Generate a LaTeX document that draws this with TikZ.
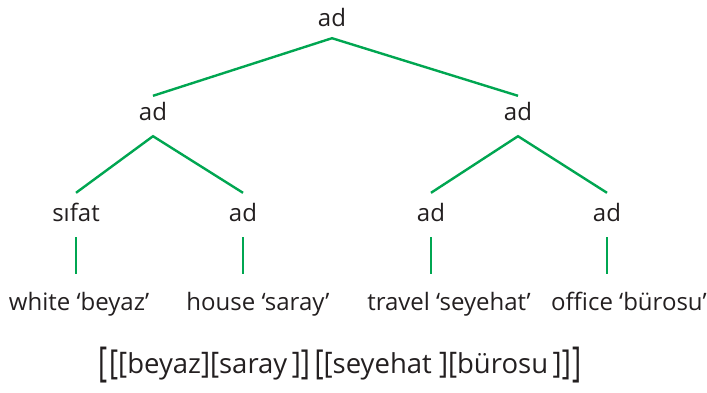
\documentclass[tikz,border=0pt]{standalone}
\usepackage{fontspec}
\setmainfont{Open Sans}
\usepackage{graphicx}
\usetikzlibrary{positioning}
\definecolor{branchcolor}{RGB}{0,166,81}
\definecolor{inkcolor}{RGB}{35,31,32}
\tikzset{
  catlbl/.style={font=\fontsize{24}{28}\selectfont, text=inkcolor, anchor=base,
    text height=15pt, text depth=3pt, inner xsep=0pt, inner ysep=9pt},
  midlbl/.style={catlbl, text depth=7pt},
  leaflbl/.style={catlbl, inner ysep=13pt},
  glosslbl/.style={catlbl, inner ysep=21pt},
  phraselbl/.style={font=\fontsize{27.5}{32}\selectfont, text=inkcolor, anchor=base, inner sep=0pt},
  branch/.style={line width=2.4pt, branchcolor},
}
\newcommand{\brk}[2]{\raisebox{0.28em}{\scalebox{1}[#1]{\raisebox{-0.28em}{#2}}}}

\begin{document}
\begin{tikzpicture}[x=1pt,y=-1pt]
  \useasboundingbox (0,0) rectangle (707,392);
  \node[catlbl] (root) at (332,26) {ad};
  \node[midlbl] (adA) at (153,120) {ad};
  \node[midlbl] (adB) at (518,120) {ad};
  \foreach \nm/\x/\lab in {sifat/76/sıfat, adAA/243/ad, adBA/431/ad, adBB/607/ad}
    \node[leaflbl] (\nm) at (\x,221) {\lab};
  \foreach \nm/\x/\lab in {white/79/{white ‘beyaz’}, house/258/{house ‘saray’},
    travel/449/{travel ‘seyehat’}, office/629/{office ‘bürosu’}}
    \node[glosslbl] (\nm) at (\x,310) {\lab};
  \draw[branch] (adA.north) -- (root.south) -- (adB.north);
  \draw[branch] (sifat.north) -- (adA.south) -- (adAA.north);
  \draw[branch] (adBA.north) -- (adB.south) -- (adBB.north);
  \foreach \a/\b in {sifat/white, adAA/house, adBA/travel, adBB/office}
    \draw[branch] (\a.south) -- (\a.south |- \b.north);
  \node[phraselbl] (phrase) at (340,373)
    {\brk{1.5}{[}\kern2pt\brk{1.25}{[}\brk{1.08}{[}beyaz\brk{1.08}{]}\brk{1.08}{[}saray\,\brk{1.08}{]}\brk{1.25}{]}\,%
     \brk{1.25}{[}\brk{1.08}{[}seyehat \brk{1.08}{]}\brk{1.08}{[}bürosu\,\brk{1.08}{]}\brk{1.25}{]}\kern2pt\brk{1.5}{]}};
\end{tikzpicture}
\end{document}
